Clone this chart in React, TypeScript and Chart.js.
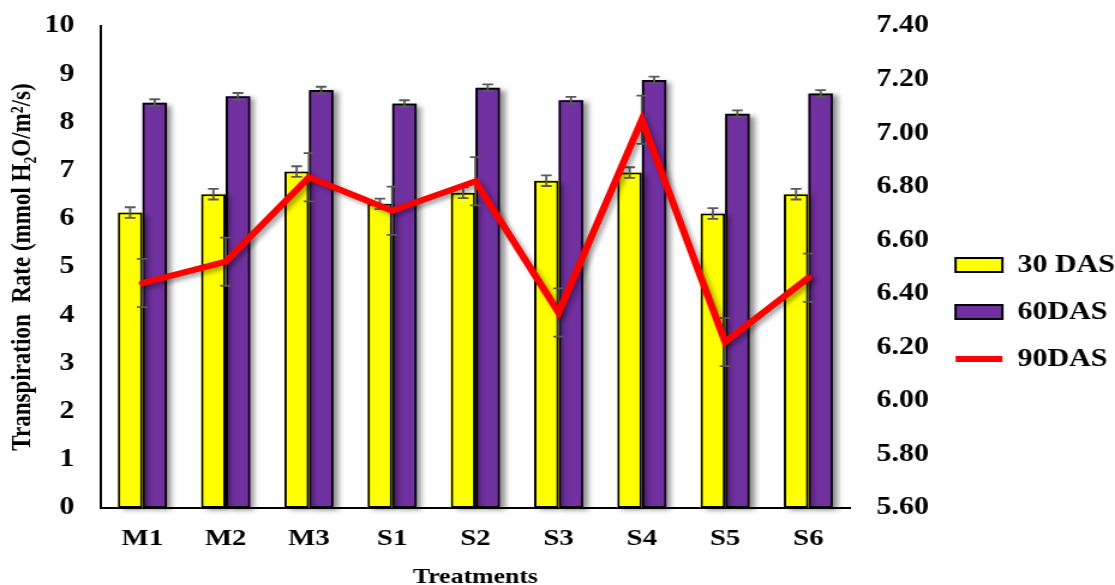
import React, { useEffect, useRef } from 'react';
import { Chart, registerables } from 'chart.js';

Chart.register(...registerables);

// ---- data ----
const categories = ['M1', 'M2', 'M3', 'S1', 'S2', 'S3', 'S4', 'S5', 'S6'];
const das30 = [6.13, 6.51, 6.98, 6.31, 6.54, 6.79, 6.96, 6.11, 6.51];
const das30Err = [0.11, 0.11, 0.11, 0.11, 0.11, 0.11, 0.11, 0.11, 0.11];
const das60 = [8.41, 8.54, 8.67, 8.39, 8.72, 8.46, 8.88, 8.18, 8.6];
const das60Err = [0.07, 0.07, 0.07, 0.07, 0.07, 0.07, 0.07, 0.07, 0.07];
const das90 = [6.44, 6.52, 6.835, 6.71, 6.82, 6.33, 7.05, 6.22, 6.46];
const das90Err = [0.09, 0.09, 0.09, 0.09, 0.09, 0.09, 0.09, 0.09, 0.09];
const seriesNames = ['30 DAS', '60DAS', '90DAS'];
const leftAxis = { min: 0, max: 10, step: 1 };
const rightAxis = { min: 5.6, max: 7.4, step: 0.2 };
const xTitle = 'Treatments';
const yTitle = 'Transpiration  Rate (mmol H\u2082O/m\u00B2/s)';

const FONT = "'Liberation Serif', 'Times New Roman', serif";
const CANVAS_W = 929;
const CANVAS_H = 585;

function drawErrors(chart: any, meta: any, errors: number[], scaleId: string, values: number[]) {
  const ctx = chart.ctx;
  const scale = chart.scales[scaleId];
  ctx.save();
  ctx.strokeStyle = '#595959';
  ctx.lineWidth = 1.8;
  const cap = 4.5;
  meta.data.forEach((el: any, i: number) => {
    const x = el.x;
    const yHi = scale.getPixelForValue(values[i] + errors[i]);
    const yLo = scale.getPixelForValue(values[i] - errors[i]);
    ctx.beginPath();
    ctx.moveTo(x, yHi);
    ctx.lineTo(x, yLo);
    ctx.moveTo(x - cap, yHi);
    ctx.lineTo(x + cap, yHi);
    ctx.moveTo(x - cap, yLo);
    ctx.lineTo(x + cap, yLo);
    ctx.stroke();
  });
  ctx.restore();
}

const decorPlugin = {
  id: 'decor',
  beforeDatasetDraw(chart: any, args: any) {
    const ds: any = chart.data.datasets[args.index];
    const ctx = chart.ctx;
    if (ds.type === 'line') {
      drawErrors(chart, args.meta, ds.errors, 'y1', ds.data);
      ctx.save();
      ctx.shadowColor = 'rgba(0,0,0,0.35)';
      ctx.shadowBlur = 4;
      ctx.shadowOffsetX = 3;
      ctx.shadowOffsetY = 3;
    } else {
      ctx.save();
      ctx.shadowColor = 'rgba(0,0,0,0.45)';
      ctx.shadowBlur = 5;
      ctx.shadowOffsetX = 4;
      ctx.shadowOffsetY = 2;
      ctx.fillStyle = ds.backgroundColor;
      args.meta.data.forEach((bar: any) => {
        const { x, y, base, width } = bar.getProps(['x', 'y', 'base', 'width'], true);
        ctx.fillRect(x - width / 2, y, width, base - y);
      });
      ctx.restore();
    }
  },
  afterDatasetDraw(chart: any, args: any) {
    const ds: any = chart.data.datasets[args.index];
    if (ds.type === 'line') {
      chart.ctx.restore();
    } else {
      drawErrors(chart, args.meta, ds.errors, 'y', ds.data);
    }
  },
};

export default function App() {
  const canvasRef = useRef<HTMLCanvasElement | null>(null);

  useEffect(() => {
    document.body.style.margin = '0';
    const canvas = canvasRef.current;
    if (!canvas) return;
    const chart = new Chart(canvas, {
      type: 'bar',
      data: {
        labels: categories,
        datasets: [
          {
            type: 'bar',
            label: seriesNames[0],
            data: das30,
            errors: das30Err,
            backgroundColor: '#FFFF00',
            borderColor: '#000000',
            borderWidth: 2,
            borderSkipped: false,
            pointStyle: 'rect',
            yAxisID: 'y',
            order: 2,
          } as any,
          {
            type: 'bar',
            label: seriesNames[1],
            data: das60,
            errors: das60Err,
            backgroundColor: '#7030A0',
            borderColor: '#000000',
            borderWidth: 2,
            borderSkipped: false,
            pointStyle: 'rect',
            yAxisID: 'y',
            order: 2,
          } as any,
          {
            type: 'line',
            label: seriesNames[2],
            data: das90,
            errors: das90Err,
            borderColor: '#FF0000',
            backgroundColor: '#FF0000',
            borderWidth: 6,
            borderCapStyle: 'round',
            borderJoinStyle: 'miter',
            pointRadius: 0,
            pointHoverRadius: 0,
            pointStyle: 'line',
            tension: 0,
            yAxisID: 'y1',
            order: 1,
          } as any,
        ],
      },
      options: {
        responsive: false,
        devicePixelRatio: 1,
        animation: false,
        layout: { padding: { top: 26, right: 0, bottom: 0, left: 0 } },
        datasets: {
          bar: { categoryPercentage: 0.59, barPercentage: 1 },
        } as any,
        plugins: {
          tooltip: { enabled: false },
          legend: {
            position: 'right',
            align: 'center',
            title: { display: true, text: ' ', font: { size: 1 }, padding: { top: 0, bottom: 12 } } as any,
            labels: {
              usePointStyle: true,
              pointStyleWidth: 39,
              boxHeight: 14,
              padding: 22,
              color: '#000',
              font: { family: FONT, size: 25, weight: 'bold' },
              sort: (a: any, b: any) => a.datasetIndex - b.datasetIndex,
            } as any,
          },
        },
        scales: {
          x: {
            grid: { display: false, drawTicks: false },
            border: { display: true, color: '#000', width: 2 },
            ticks: { color: '#000', padding: 16, font: { family: FONT, size: 24, weight: 'bold' } },
            title: {
              display: true,
              text: xTitle,
              color: '#000',
              font: { family: FONT, size: 21.5, weight: 'bold', lineHeight: 1 },
              padding: { top: 0, bottom: -3 },
            },
            afterFit: (s: any) => {
              s.height = 77;
            },
          },
          y: {
            position: 'left',
            min: leftAxis.min,
            max: leftAxis.max,
            grid: { display: false, drawTicks: false },
            border: { display: true, color: '#000', width: 2 },
            ticks: { stepSize: leftAxis.step, color: '#000', padding: 22, font: { family: FONT, size: 25, weight: 'bold' } },
            title: {
              display: true,
              text: yTitle,
              color: '#000',
              font: { family: FONT, size: 23, weight: 'bold' },
              padding: { top: 5, bottom: 0 },
            },
            afterFit: (s: any) => {
              s.width = 84;
              s.paddingTop = 0;
              s.paddingBottom = 0;
            },
          },
          y1: {
            position: 'right',
            min: rightAxis.min,
            max: rightAxis.max,
            grid: { display: false, drawTicks: false },
            border: { display: false },
            ticks: {
              stepSize: rightAxis.step,
              color: '#000',
              padding: 22,
              font: { family: FONT, size: 25, weight: 'bold' },
              callback: (v: any) => Number(v).toFixed(2),
            },
            afterFit: (s: any) => {
              s.width = 66;
              s.paddingTop = 0;
              s.paddingBottom = 0;
            },
          },
        },
      } as any,
      plugins: [decorPlugin],
    });
    return () => chart.destroy();
  }, []);

  return (
    <canvas
      ref={canvasRef}
      width={CANVAS_W}
      height={CANVAS_H}
      style={{ display: 'block', width: '1115px', height: '585px' }}
    />
  );
}
